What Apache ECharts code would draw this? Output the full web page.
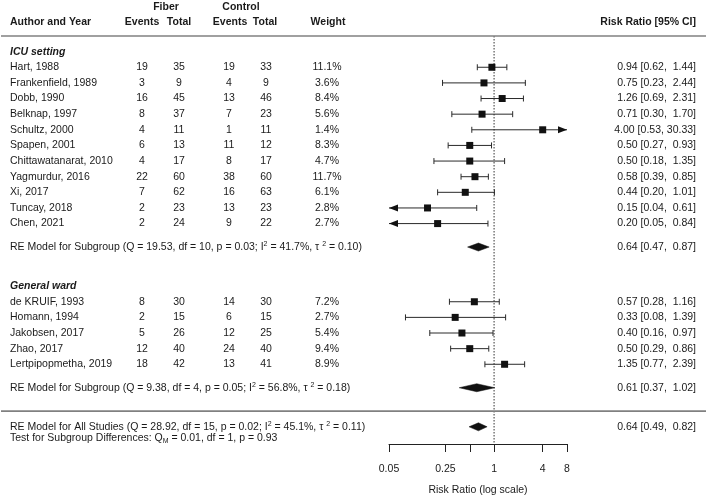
<!DOCTYPE html>
<html><head><meta charset="utf-8">
<script src="https://cdn.jsdelivr.net/npm/echarts@6/dist/echarts.min.js"></script>
<style>html,body{margin:0;padding:0;background:#fff}#c{width:708px;height:501px}</style>
</head><body><div id="c"></div>
<script>
// ---------------- data ----------------
const groupNames = ["ICU setting", "General ward"];
const studies = ["Hart, 1988", "Frankenfield, 1989", "Dobb, 1990", "Belknap, 1997", "Schultz, 2000",
  "Spapen, 2001", "Chittawatanarat, 2010", "Yagmurdur, 2016", "Xi, 2017", "Tuncay, 2018", "Chen, 2021",
  "de KRUIF, 1993", "Homann, 1994", "Jakobsen, 2017", "Zhao, 2017", "Lertpipopmetha, 2019"];
const studyGroup = [0,0,0,0,0,0,0,0,0,0,0, 1,1,1,1,1];
const fiberEvents = [19,3,16,8,4,6,4,22,7,2,2, 8,2,5,12,18];
const fiberTotal = [35,9,45,37,11,13,17,60,62,23,24, 30,15,26,40,42];
const controlEvents = [19,4,13,7,1,11,8,38,16,13,9, 14,6,12,24,13];
const controlTotal = [33,9,46,23,11,12,17,60,63,23,22, 30,15,25,40,41];
const weights = [11.1,3.6,8.4,5.6,1.4,8.3,4.7,11.7,6.1,2.8,2.7, 7.2,2.7,5.4,9.4,8.9];
const rr = [0.94,0.75,1.26,0.71,4.00,0.50,0.50,0.58,0.44,0.15,0.20, 0.57,0.33,0.40,0.50,1.35];
const rrLo = [0.62,0.23,0.69,0.30,0.53,0.27,0.18,0.39,0.20,0.04,0.05, 0.28,0.08,0.16,0.29,0.77];
const rrHi = [1.44,2.44,2.31,1.70,30.33,0.93,1.35,0.85,1.01,0.61,0.84, 1.16,1.39,0.97,0.86,2.39];

const subQ = [19.53, 9.38];
const subDf = [10, 4];
const subP = ["0.03", "0.05"];
const subI2 = ["41.7", "56.8"];
const subTau2 = ["0.10", "0.18"];
const subEst = [0.64, 0.61];
const subLo = [0.47, 0.37];
const subHi = [0.87, 1.02];

const allStats = {Q: "28.92", df: 15, p: "0.02", I2: "45.1", tau2: "0.11"};
const allEst = [0.64], allLo = [0.49], allHi = [0.82];
const testStats = {QM: "0.01", df: 1, p: "0.93"};

const tickValues = [0.05, 0.25, 0.5, 1, 4, 8];
const tickLabels = [0.05, 0.25, 1, 4, 8];
const axisTitle = "Risk Ratio (log scale)";

// ---------------- helpers ----------------
const L2 = v => Math.log(v) / Math.LN2;
const XMIN = L2(0.05), XMAX = L2(8);
const FONT = '"Liberation Sans", Arial, Helvetica, sans-serif';
const FS = 10.5;
const TXT = '#1a1a1a';
const fReg = FS + 'px ' + FONT;
const fBold = 'bold ' + FS + 'px ' + FONT;
const fBI = 'italic bold ' + FS + 'px ' + FONT;

// row layout computed from group membership
const studyRow = [];
const groupHeaderRow = [], summaryRow = [];
let r = -1;
groupNames.forEach((g, gi) => {
  groupHeaderRow.push(r);
  r += 1;
  studies.forEach((s, i) => { if (studyGroup[i] === gi) { studyRow[i] = r; r += 1; } });
  summaryRow.push(r + 0.5);
  r += 3;
});
const sepRow = summaryRow[summaryRow.length - 1] + 1.5;
const allRow = sepRow + 1;
const testRow = allRow + 0.7;

function ciText(e, l, h) {
  let hs = h.toFixed(2);
  while (hs.length < 5) hs = ' ' + hs;
  return e.toFixed(2) + ' [' + l.toFixed(2) + ', ' + hs + ']';
}
function txt(s, x, y, align, font) {
  return {type: 'text', style: {text: s, x: x, y: y, align: align, verticalAlign: 'middle', font: font || fReg, fill: TXT}};
}
function richTxt(s, x, y, align) {
  return {type: 'text', style: {text: s, x: x, y: y, align: align, verticalAlign: 'middle', fill: TXT,
    font: fReg,
    rich: {
      n: {fontSize: FS, fontFamily: FONT, fill: TXT, lineHeight: 13},
      sup: {fontSize: 7, fontFamily: FONT, fill: TXT, verticalAlign: 'top', lineHeight: 13, padding: [0,0,6,0]},
      sub: {fontSize: 7, fontFamily: FONT, fill: TXT, verticalAlign: 'bottom', lineHeight: 13, padding: [4,0,0,0]}
    }}};
}
function reLabel(prefix, Q, df, p, I2, tau2) {
  return '{n|' + prefix + ' (Q = ' + Q + ', df = ' + df + ', p = ' + p + '; I}{sup|2}{n| = ' + I2 +
    '%, \u03c4 }{sup|2}{n| = ' + tau2 + ')}';
}

// column x positions (pixels)
const X_AUTH = 10, X_FE = 142, X_FT = 179, X_CE = 229, X_CT = 266, X_W = 327, X_CI = 696;
const X_FIB = 166, X_CON = 241;

const INK = '#111';
const LINE = '#2a2a2a';

function diamond(api, e, l, h, row) {
  const y = api.coord([0, row])[1];
  const xe = api.coord([L2(e), row])[0];
  const xl = api.coord([L2(l), row])[0];
  const xh = api.coord([L2(h), row])[0];
  return {type: 'polygon', shape: {points: [[xl, y], [xe, y - 4], [xh, y], [xe, y + 4]]}, style: {fill: INK, stroke: INK, lineWidth: 0.5}};
}

const studyData = studies.map((s, i) => [L2(rr[i]), studyRow[i], L2(rrLo[i]), L2(rrHi[i]), i]);

function renderStudy(params, api) {
  const i = api.value(4);
  const row = api.value(1);
  const y = api.coord([0, row])[1];
  const xe = api.coord([api.value(0), row])[0];
  const lv = api.value(2), hv = api.value(3);
  const leftArrow = lv <= XMIN + 1e-6, rightArrow = hv >= XMAX - 1e-6;
  const xl = api.coord([Math.max(lv, XMIN), row])[0];
  const xh = api.coord([Math.min(hv, XMAX), row])[0];
  const ch = [];
  ch.push({type: 'line', shape: {x1: xl, y1: y, x2: xh, y2: y}, style: {stroke: LINE, lineWidth: 1}});
  if (leftArrow) ch.push({type: 'polygon', shape: {points: [[xl, y], [xl + 9, y - 3.5], [xl + 9, y + 3.5]]}, style: {fill: INK}});
  else ch.push({type: 'line', shape: {x1: xl, y1: y - 3, x2: xl, y2: y + 3}, style: {stroke: LINE, lineWidth: 1}});
  if (rightArrow) ch.push({type: 'polygon', shape: {points: [[xh, y], [xh - 9, y - 3.5], [xh - 9, y + 3.5]]}, style: {fill: INK}});
  else ch.push({type: 'line', shape: {x1: xh, y1: y - 3, x2: xh, y2: y + 3}, style: {stroke: LINE, lineWidth: 1}});
  ch.push({type: 'rect', shape: {x: xe - 3.5, y: y - 3.5, width: 7, height: 7}, style: {fill: INK}});
  ch.push(txt(studies[i], X_AUTH, y, 'left'));
  ch.push(txt(String(fiberEvents[i]), X_FE, y, 'center'));
  ch.push(txt(String(fiberTotal[i]), X_FT, y, 'center'));
  ch.push(txt(String(controlEvents[i]), X_CE, y, 'center'));
  ch.push(txt(String(controlTotal[i]), X_CT, y, 'center'));
  ch.push(txt(weights[i].toFixed(1) + '%', X_W, y, 'center'));
  ch.push(txt(ciText(rr[i], rrLo[i], rrHi[i]), X_CI, y, 'right'));
  return {type: 'group', children: ch};
}

function renderStatic(params, api) {
  const ch = [];
  const yOf = row => api.coord([0, row])[1];
  const x1 = api.coord([0, 0])[0];
  // dotted reference line at RR = 1
  ch.push({type: 'line', shape: {x1: x1, y1: yOf(-2), x2: x1, y2: yOf(24.1)}, style: {stroke: '#333', lineWidth: 1, lineDash: [1.5, 1.5]}});
  // separators
  ch.push({type: 'line', shape: {x1: 1, y1: yOf(-2), x2: 706, y2: yOf(-2)}, style: {stroke: '#808080', lineWidth: 1.6}});
  ch.push({type: 'line', shape: {x1: 1, y1: yOf(sepRow), x2: 706, y2: yOf(sepRow)}, style: {stroke: '#808080', lineWidth: 1.6}});
  // headers
  const hTop = -3.88, hBot = -2.92;
  ch.push(txt('Fiber', X_FIB, yOf(hTop), 'center', fBold));
  ch.push(txt('Control', X_CON, yOf(hTop), 'center', fBold));
  ch.push(txt('Author and Year', X_AUTH, yOf(hBot), 'left', fBold));
  ch.push(txt('Events', X_FE, yOf(hBot), 'center', fBold));
  ch.push(txt('Total', X_FT, yOf(hBot), 'center', fBold));
  ch.push(txt('Events', X_CE + 1, yOf(hBot), 'center', fBold));
  ch.push(txt('Total', X_CT - 1, yOf(hBot), 'center', fBold));
  ch.push(txt('Weight', X_W + 1, yOf(hBot), 'center', fBold));
  ch.push(txt('Risk Ratio [95% CI]', X_CI, yOf(hBot), 'right', fBold));
  // group headers and subgroup summaries
  groupNames.forEach((g, gi) => {
    ch.push(txt(g, X_AUTH, yOf(groupHeaderRow[gi]), 'left', fBI));
    const sr = summaryRow[gi];
    ch.push(richTxt(reLabel('RE Model for Subgroup', subQ[gi].toFixed(2), subDf[gi], subP[gi], subI2[gi], subTau2[gi]), X_AUTH, yOf(sr), 'left'));
    ch.push(diamond(api, subEst[gi], subLo[gi], subHi[gi], sr));
    ch.push(txt(ciText(subEst[gi], subLo[gi], subHi[gi]), X_CI, yOf(sr), 'right'));
  });
  // overall
  ch.push(richTxt(reLabel('RE Model for All Studies', allStats.Q, allStats.df, allStats.p, allStats.I2, allStats.tau2), X_AUTH, yOf(allRow), 'left'));
  ch.push(diamond(api, allEst[0], allLo[0], allHi[0], allRow));
  ch.push(txt(ciText(allEst[0], allLo[0], allHi[0]), X_CI, yOf(allRow), 'right'));
  ch.push(richTxt('{n|Test for Subgroup Differences: Q}{sub|M}{n| = ' + testStats.QM + ', df = ' + testStats.df + ', p = ' + testStats.p + '}', X_AUTH, yOf(testRow), 'left'));
  return {type: 'group', children: ch};
}

const chart = echarts.init(document.getElementById('c'), null, {renderer: 'canvas'});
chart.setOption({
  animation: false,
  backgroundColor: '#fff',
  grid: {left: 389, right: 141, top: 36, bottom: 57, containLabel: false},
  xAxis: {
    type: 'value', min: XMIN, max: XMAX, position: 'bottom',
    splitLine: {show: false},
    axisLine: {show: true, onZero: false, lineStyle: {color: '#222', width: 1}},
    axisTick: {show: true, inside: false, length: 8, lineStyle: {color: '#222', width: 1}, customValues: tickValues.map(L2)},
    axisLabel: {show: true, margin: 20, color: TXT, fontSize: FS, fontFamily: FONT, customValues: tickLabels.map(L2),
      formatter: v => String(Math.round(Math.pow(2, v) * 100) / 100)},
    name: axisTitle, nameLocation: 'middle', nameGap: 41,
    nameTextStyle: {color: TXT, fontSize: FS, fontFamily: FONT}
  },
  yAxis: {type: 'value', inverse: true, min: -2, max: 24.1, show: false},
  series: [
    {type: 'custom', clip: false, renderItem: renderStatic, data: [[0, 0]], silent: true},
    {type: 'custom', clip: false, renderItem: renderStudy, data: studyData, silent: true,
      encode: {x: [0, 2, 3], y: 1}}
  ]
});
</script>
</body></html>
